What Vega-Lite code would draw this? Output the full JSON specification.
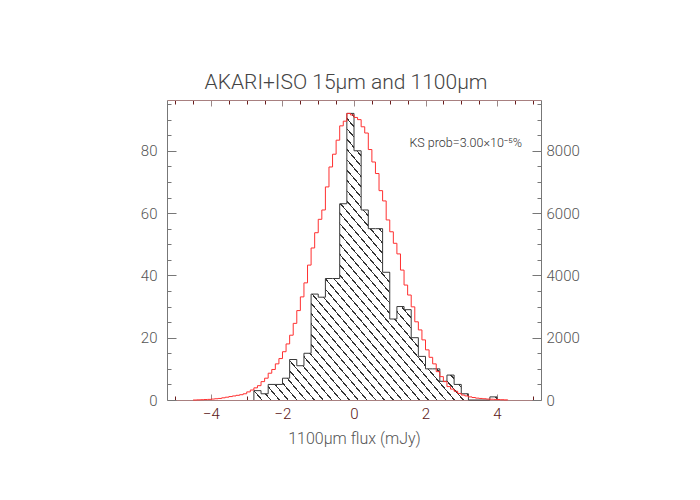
{
  "$schema": "https://vega.github.io/schema/vega-lite/v6.json",
  "width": 374,
  "height": 300,
  "padding": {"left": 140, "top": 72, "right": 5, "bottom": 5},
  "background": "white",
  "config": {"view": {"stroke": null}, "font": "Roboto"},
  "title": {"text": "AKARI+ISO 15μm and 1100μm", "font": "Roboto", "fontSize": 21, "fontWeight": 300, "color": "#444", "offset": 4, "dx": -8},
  "datasets": {
    "hatch": [
      {"i": 0, "x": -2.8, "v": 0}, {"i": 1, "x": -2.8, "v": 3}, {"i": 2, "x": -2.6, "v": 2}, {"i": 3, "x": -2.4, "v": 5},
      {"i": 4, "x": -2.2, "v": 5}, {"i": 5, "x": -2.0, "v": 7}, {"i": 6, "x": -1.8, "v": 13}, {"i": 7, "x": -1.6, "v": 11},
      {"i": 8, "x": -1.4, "v": 15}, {"i": 9, "x": -1.2, "v": 34}, {"i": 10, "x": -1.0, "v": 33}, {"i": 11, "x": -0.8, "v": 39},
      {"i": 12, "x": -0.6, "v": 39}, {"i": 13, "x": -0.4, "v": 63}, {"i": 14, "x": -0.2, "v": 92}, {"i": 15, "x": 0.0, "v": 80},
      {"i": 16, "x": 0.2, "v": 61}, {"i": 17, "x": 0.4, "v": 55}, {"i": 18, "x": 0.6, "v": 55}, {"i": 19, "x": 0.8, "v": 41},
      {"i": 20, "x": 1.0, "v": 26}, {"i": 21, "x": 1.2, "v": 30}, {"i": 22, "x": 1.4, "v": 29}, {"i": 23, "x": 1.6, "v": 20},
      {"i": 24, "x": 1.8, "v": 14}, {"i": 25, "x": 2.0, "v": 10}, {"i": 26, "x": 2.2, "v": 10}, {"i": 27, "x": 2.4, "v": 6},
      {"i": 28, "x": 2.6, "v": 8}, {"i": 29, "x": 2.8, "v": 5}, {"i": 30, "x": 3.0, "v": 2}, {"i": 31, "x": 3.2, "v": 0},
      {"i": 32, "x": 3.8, "v": 1}, {"i": 33, "x": 4.0, "v": 0}
    ],
    "total": [
      {"x": -4.5, "n": 0}, {"x": -4.4, "n": 5}, {"x": -4.3, "n": 10}, {"x": -4.2, "n": 15}, {"x": -4.1, "n": 20},
      {"x": -4.0, "n": 30}, {"x": -3.9, "n": 40}, {"x": -3.8, "n": 50}, {"x": -3.7, "n": 70}, {"x": -3.6, "n": 90},
      {"x": -3.5, "n": 110}, {"x": -3.4, "n": 130}, {"x": -3.3, "n": 150}, {"x": -3.2, "n": 170}, {"x": -3.1, "n": 200},
      {"x": -3.0, "n": 260}, {"x": -2.9, "n": 320}, {"x": -2.8, "n": 390}, {"x": -2.7, "n": 460}, {"x": -2.6, "n": 590},
      {"x": -2.5, "n": 700}, {"x": -2.4, "n": 860}, {"x": -2.3, "n": 980}, {"x": -2.2, "n": 1160}, {"x": -2.1, "n": 1330},
      {"x": -2.0, "n": 1550}, {"x": -1.9, "n": 1800}, {"x": -1.8, "n": 2080}, {"x": -1.7, "n": 2460}, {"x": -1.6, "n": 2870},
      {"x": -1.5, "n": 3310}, {"x": -1.4, "n": 3760}, {"x": -1.3, "n": 4330}, {"x": -1.2, "n": 4880}, {"x": -1.1, "n": 5370},
      {"x": -1.0, "n": 5800}, {"x": -0.9, "n": 6100}, {"x": -0.8, "n": 6840}, {"x": -0.7, "n": 7480}, {"x": -0.6, "n": 7890},
      {"x": -0.5, "n": 8340}, {"x": -0.4, "n": 8800}, {"x": -0.3, "n": 8950}, {"x": -0.2, "n": 9200}, {"x": -0.1, "n": 9150},
      {"x": 0.0, "n": 9070}, {"x": 0.1, "n": 9000}, {"x": 0.2, "n": 8770}, {"x": 0.3, "n": 8570}, {"x": 0.4, "n": 8040},
      {"x": 0.5, "n": 7640}, {"x": 0.6, "n": 7270}, {"x": 0.7, "n": 6720}, {"x": 0.8, "n": 6390}, {"x": 0.9, "n": 5780},
      {"x": 1.0, "n": 5400}, {"x": 1.1, "n": 5030}, {"x": 1.2, "n": 4690}, {"x": 1.3, "n": 4170}, {"x": 1.4, "n": 3690},
      {"x": 1.5, "n": 3370}, {"x": 1.6, "n": 2990}, {"x": 1.7, "n": 2510}, {"x": 1.8, "n": 2250}, {"x": 1.9, "n": 1930},
      {"x": 2.0, "n": 1610}, {"x": 2.1, "n": 1370}, {"x": 2.2, "n": 1160}, {"x": 2.3, "n": 910}, {"x": 2.4, "n": 750},
      {"x": 2.5, "n": 590}, {"x": 2.6, "n": 430}, {"x": 2.7, "n": 350}, {"x": 2.8, "n": 280}, {"x": 2.9, "n": 210},
      {"x": 3.0, "n": 160}, {"x": 3.1, "n": 130}, {"x": 3.2, "n": 100}, {"x": 3.3, "n": 80}, {"x": 3.4, "n": 60},
      {"x": 3.5, "n": 50}, {"x": 3.6, "n": 40}, {"x": 3.7, "n": 30}, {"x": 3.8, "n": 25}, {"x": 3.9, "n": 20},
      {"x": 4.0, "n": 15}, {"x": 4.1, "n": 10}, {"x": 4.2, "n": 5}, {"x": 4.3, "n": 0}
    ],
    "note": [
      {"x": 1.55, "y": 82.6, "label": "KS prob=3.00×10⁻⁵%"}
    ]
  },
  "layer": [
    {
      "data": {"name": "hatch"},
      "mark": {
        "type": "area",
        "interpolate": "step-after",
        "opacity": 1,
        "color": {
          "gradient": "linear",
          "x1": 0, "y1": 1, "x2": 1, "y2": 0,
          "stops": [
            {"offset": 0, "color": "#fff"},
            {"offset": 0.015, "color": "#fff"}, {"offset": 0.015, "color": "#333"}, {"offset": 0.018, "color": "#333"}, {"offset": 0.018, "color": "#fff"},
            {"offset": 0.033, "color": "#fff"}, {"offset": 0.033, "color": "#333"}, {"offset": 0.036, "color": "#333"}, {"offset": 0.036, "color": "#fff"},
            {"offset": 0.051, "color": "#fff"}, {"offset": 0.051, "color": "#333"}, {"offset": 0.054, "color": "#333"}, {"offset": 0.054, "color": "#fff"},
            {"offset": 0.069, "color": "#fff"}, {"offset": 0.069, "color": "#333"}, {"offset": 0.072, "color": "#333"}, {"offset": 0.072, "color": "#fff"},
            {"offset": 0.087, "color": "#fff"}, {"offset": 0.087, "color": "#333"}, {"offset": 0.09, "color": "#333"}, {"offset": 0.09, "color": "#fff"},
            {"offset": 0.105, "color": "#fff"}, {"offset": 0.105, "color": "#333"}, {"offset": 0.108, "color": "#333"}, {"offset": 0.108, "color": "#fff"},
            {"offset": 0.123, "color": "#fff"}, {"offset": 0.123, "color": "#333"}, {"offset": 0.126, "color": "#333"}, {"offset": 0.126, "color": "#fff"},
            {"offset": 0.141, "color": "#fff"}, {"offset": 0.141, "color": "#333"}, {"offset": 0.144, "color": "#333"}, {"offset": 0.144, "color": "#fff"},
            {"offset": 0.159, "color": "#fff"}, {"offset": 0.159, "color": "#333"}, {"offset": 0.162, "color": "#333"}, {"offset": 0.162, "color": "#fff"},
            {"offset": 0.177, "color": "#fff"}, {"offset": 0.177, "color": "#333"}, {"offset": 0.18, "color": "#333"}, {"offset": 0.18, "color": "#fff"},
            {"offset": 0.195, "color": "#fff"}, {"offset": 0.195, "color": "#333"}, {"offset": 0.198, "color": "#333"}, {"offset": 0.198, "color": "#fff"},
            {"offset": 0.213, "color": "#fff"}, {"offset": 0.213, "color": "#333"}, {"offset": 0.216, "color": "#333"}, {"offset": 0.216, "color": "#fff"},
            {"offset": 0.231, "color": "#fff"}, {"offset": 0.231, "color": "#333"}, {"offset": 0.234, "color": "#333"}, {"offset": 0.234, "color": "#fff"},
            {"offset": 0.249, "color": "#fff"}, {"offset": 0.249, "color": "#333"}, {"offset": 0.252, "color": "#333"}, {"offset": 0.252, "color": "#fff"},
            {"offset": 0.267, "color": "#fff"}, {"offset": 0.267, "color": "#333"}, {"offset": 0.27, "color": "#333"}, {"offset": 0.27, "color": "#fff"},
            {"offset": 0.285, "color": "#fff"}, {"offset": 0.285, "color": "#333"}, {"offset": 0.288, "color": "#333"}, {"offset": 0.288, "color": "#fff"},
            {"offset": 0.303, "color": "#fff"}, {"offset": 0.303, "color": "#333"}, {"offset": 0.306, "color": "#333"}, {"offset": 0.306, "color": "#fff"},
            {"offset": 0.321, "color": "#fff"}, {"offset": 0.321, "color": "#333"}, {"offset": 0.324, "color": "#333"}, {"offset": 0.324, "color": "#fff"},
            {"offset": 0.339, "color": "#fff"}, {"offset": 0.339, "color": "#333"}, {"offset": 0.342, "color": "#333"}, {"offset": 0.342, "color": "#fff"},
            {"offset": 0.357, "color": "#fff"}, {"offset": 0.357, "color": "#333"}, {"offset": 0.36, "color": "#333"}, {"offset": 0.36, "color": "#fff"},
            {"offset": 0.375, "color": "#fff"}, {"offset": 0.375, "color": "#333"}, {"offset": 0.378, "color": "#333"}, {"offset": 0.378, "color": "#fff"},
            {"offset": 0.393, "color": "#fff"}, {"offset": 0.393, "color": "#333"}, {"offset": 0.396, "color": "#333"}, {"offset": 0.396, "color": "#fff"},
            {"offset": 0.411, "color": "#fff"}, {"offset": 0.411, "color": "#333"}, {"offset": 0.414, "color": "#333"}, {"offset": 0.414, "color": "#fff"},
            {"offset": 0.429, "color": "#fff"}, {"offset": 0.429, "color": "#333"}, {"offset": 0.432, "color": "#333"}, {"offset": 0.432, "color": "#fff"},
            {"offset": 0.447, "color": "#fff"}, {"offset": 0.447, "color": "#333"}, {"offset": 0.45, "color": "#333"}, {"offset": 0.45, "color": "#fff"},
            {"offset": 0.465, "color": "#fff"}, {"offset": 0.465, "color": "#333"}, {"offset": 0.468, "color": "#333"}, {"offset": 0.468, "color": "#fff"},
            {"offset": 0.483, "color": "#fff"}, {"offset": 0.483, "color": "#333"}, {"offset": 0.486, "color": "#333"}, {"offset": 0.486, "color": "#fff"},
            {"offset": 0.501, "color": "#fff"}, {"offset": 0.501, "color": "#333"}, {"offset": 0.504, "color": "#333"}, {"offset": 0.504, "color": "#fff"},
            {"offset": 0.519, "color": "#fff"}, {"offset": 0.519, "color": "#333"}, {"offset": 0.522, "color": "#333"}, {"offset": 0.522, "color": "#fff"},
            {"offset": 0.537, "color": "#fff"}, {"offset": 0.537, "color": "#333"}, {"offset": 0.54, "color": "#333"}, {"offset": 0.54, "color": "#fff"},
            {"offset": 0.555, "color": "#fff"}, {"offset": 0.555, "color": "#333"}, {"offset": 0.558, "color": "#333"}, {"offset": 0.558, "color": "#fff"},
            {"offset": 0.573, "color": "#fff"}, {"offset": 0.573, "color": "#333"}, {"offset": 0.576, "color": "#333"}, {"offset": 0.576, "color": "#fff"},
            {"offset": 0.591, "color": "#fff"}, {"offset": 0.591, "color": "#333"}, {"offset": 0.594, "color": "#333"}, {"offset": 0.594, "color": "#fff"},
            {"offset": 0.609, "color": "#fff"}, {"offset": 0.609, "color": "#333"}, {"offset": 0.612, "color": "#333"}, {"offset": 0.612, "color": "#fff"},
            {"offset": 0.627, "color": "#fff"}, {"offset": 0.627, "color": "#333"}, {"offset": 0.63, "color": "#333"}, {"offset": 0.63, "color": "#fff"},
            {"offset": 0.645, "color": "#fff"}, {"offset": 0.645, "color": "#333"}, {"offset": 0.648, "color": "#333"}, {"offset": 0.648, "color": "#fff"},
            {"offset": 0.663, "color": "#fff"}, {"offset": 0.663, "color": "#333"}, {"offset": 0.666, "color": "#333"}, {"offset": 0.666, "color": "#fff"},
            {"offset": 0.681, "color": "#fff"}, {"offset": 0.681, "color": "#333"}, {"offset": 0.684, "color": "#333"}, {"offset": 0.684, "color": "#fff"},
            {"offset": 0.699, "color": "#fff"}, {"offset": 0.699, "color": "#333"}, {"offset": 0.702, "color": "#333"}, {"offset": 0.702, "color": "#fff"},
            {"offset": 0.717, "color": "#fff"}, {"offset": 0.717, "color": "#333"}, {"offset": 0.72, "color": "#333"}, {"offset": 0.72, "color": "#fff"},
            {"offset": 0.735, "color": "#fff"}, {"offset": 0.735, "color": "#333"}, {"offset": 0.738, "color": "#333"}, {"offset": 0.738, "color": "#fff"},
            {"offset": 0.753, "color": "#fff"}, {"offset": 0.753, "color": "#333"}, {"offset": 0.756, "color": "#333"}, {"offset": 0.756, "color": "#fff"},
            {"offset": 0.771, "color": "#fff"}, {"offset": 0.771, "color": "#333"}, {"offset": 0.774, "color": "#333"}, {"offset": 0.774, "color": "#fff"},
            {"offset": 0.789, "color": "#fff"}, {"offset": 0.789, "color": "#333"}, {"offset": 0.792, "color": "#333"}, {"offset": 0.792, "color": "#fff"},
            {"offset": 0.807, "color": "#fff"}, {"offset": 0.807, "color": "#333"}, {"offset": 0.81, "color": "#333"}, {"offset": 0.81, "color": "#fff"},
            {"offset": 0.825, "color": "#fff"}, {"offset": 0.825, "color": "#333"}, {"offset": 0.828, "color": "#333"}, {"offset": 0.828, "color": "#fff"},
            {"offset": 0.843, "color": "#fff"}, {"offset": 0.843, "color": "#333"}, {"offset": 0.846, "color": "#333"}, {"offset": 0.846, "color": "#fff"},
            {"offset": 0.861, "color": "#fff"}, {"offset": 0.861, "color": "#333"}, {"offset": 0.864, "color": "#333"}, {"offset": 0.864, "color": "#fff"},
            {"offset": 0.879, "color": "#fff"}, {"offset": 0.879, "color": "#333"}, {"offset": 0.882, "color": "#333"}, {"offset": 0.882, "color": "#fff"},
            {"offset": 0.897, "color": "#fff"}, {"offset": 0.897, "color": "#333"}, {"offset": 0.9, "color": "#333"}, {"offset": 0.9, "color": "#fff"},
            {"offset": 0.915, "color": "#fff"}, {"offset": 0.915, "color": "#333"}, {"offset": 0.918, "color": "#333"}, {"offset": 0.918, "color": "#fff"},
            {"offset": 0.933, "color": "#fff"}, {"offset": 0.933, "color": "#333"}, {"offset": 0.936, "color": "#333"}, {"offset": 0.936, "color": "#fff"},
            {"offset": 0.951, "color": "#fff"}, {"offset": 0.951, "color": "#333"}, {"offset": 0.954, "color": "#333"}, {"offset": 0.954, "color": "#fff"},
            {"offset": 0.969, "color": "#fff"}, {"offset": 0.969, "color": "#333"}, {"offset": 0.972, "color": "#333"}, {"offset": 0.972, "color": "#fff"},
            {"offset": 0.987, "color": "#fff"}, {"offset": 0.987, "color": "#333"}, {"offset": 0.99, "color": "#333"}, {"offset": 0.99, "color": "#fff"},
            {"offset": 1, "color": "#fff"}
          ]
        }
      },
      "encoding": {
        "x": {
          "field": "x", "type": "quantitative",
          "scale": {"domain": [-5.23, 5.23], "nice": false, "zero": false},
          "axis": {
            "orient": "bottom",
            "values": [-5, -4.5, -4, -3.5, -3, -2.5, -2, -1.5, -1, -0.5, 0, 0.5, 1, 1.5, 2, 2.5, 3, 3.5, 4, 4.5, 5],
            "format": "d",
            "labelExpr": "datum.value % 2 === 0 ? datum.label : ''",
            "tickSize": {"condition": {"test": "datum.value % 2 === 0", "value": -6}, "value": -4},
            "tickColor": {"condition": {"test": "datum.value % 2 === 0", "value": "#9a8888"}, "value": "#6b1f1f"},
            "domainColor": "#a88080",
            "labelColor": "#5a1414", "labelFont": "Roboto", "labelFontSize": 15, "labelFontWeight": 300, "labelPadding": 12,
            "labelOverlap": false, "labelFlush": false,
            "title": "1100μm flux (mJy)", "titleColor": "#555", "titleFont": "Roboto", "titleFontSize": 16, "titleFontWeight": 300, "titlePadding": 7,
            "grid": false
          }
        },
        "y": {
          "field": "v", "type": "quantitative", "stack": null,
          "scale": {"domain": [0, 96.3], "nice": false},
          "axis": {
            "orient": "left",
            "values": [0, 5, 10, 15, 20, 25, 30, 35, 40, 45, 50, 55, 60, 65, 70, 75, 80, 85, 90, 95],
            "labelExpr": "datum.value % 20 === 0 ? datum.label : ''",
            "tickSize": {"condition": {"test": "datum.value % 20 === 0", "value": -9}, "value": -4},
            "tickColor": "#777", "domainColor": "#777",
            "labelColor": "#555", "labelFont": "Roboto", "labelFontSize": 15, "labelFontWeight": 300, "labelPadding": 19,
            "labelOverlap": false, "labelFlush": false,
            "title": null, "grid": false
          }
        }
      }
    },
    {
      "data": {"name": "hatch"},
      "mark": {"type": "line", "interpolate": "step-after", "color": "#3a3a3a", "strokeWidth": 1},
      "encoding": {
        "x": {
          "field": "x", "type": "quantitative",
          "scale": {"domain": [-5.23, 5.23], "nice": false, "zero": false},
          "axis": {
            "orient": "top",
            "values": [-5, -4.5, -4, -3.5, -3, -2.5, -2, -1.5, -1, -0.5, 0, 0.5, 1, 1.5, 2, 2.5, 3, 3.5, 4, 4.5, 5],
            "labels": false,
            "tickSize": {"condition": {"test": "datum.value % 2 === 0", "value": -6}, "value": -4},
            "tickColor": {"condition": {"test": "datum.value % 2 === 0", "value": "#9a8888"}, "value": "#6b1f1f"},
            "domainColor": "#a88080",
            "title": null, "grid": false
          }
        },
        "y": {
          "field": "v", "type": "quantitative",
          "scale": {"domain": [0, 96.3], "nice": false},
          "axis": null
        },
        "order": {"field": "i"}
      }
    },
    {
      "data": {"name": "total"},
      "mark": {"type": "line", "interpolate": "step-after", "color": "#ff3030", "strokeWidth": 1},
      "encoding": {
        "x": {
          "field": "x", "type": "quantitative",
          "scale": {"domain": [-5.23, 5.23], "nice": false, "zero": false},
          "axis": null
        },
        "y": {
          "field": "n", "type": "quantitative",
          "scale": {"domain": [0, 9630], "nice": false},
          "axis": {
            "orient": "right",
            "values": [0, 500, 1000, 1500, 2000, 2500, 3000, 3500, 4000, 4500, 5000, 5500, 6000, 6500, 7000, 7500, 8000, 8500, 9000, 9500],
            "format": "d",
            "labelExpr": "datum.value % 2000 === 0 ? datum.label : ''",
            "tickSize": {"condition": {"test": "datum.value % 2000 === 0", "value": -9}, "value": -4},
            "tickColor": "#777", "domainColor": "#777",
            "labelColor": "#555", "labelFont": "Roboto", "labelFontSize": 15, "labelFontWeight": 300, "labelPadding": 14,
            "labelOverlap": false, "labelFlush": false,
            "title": null, "grid": false
          }
        }
      }
    },
    {
      "data": {"name": "note"},
      "mark": {"type": "text", "align": "left", "baseline": "middle", "font": "Roboto", "fontSize": 12.5, "fontWeight": 300, "color": "#333"},
      "encoding": {
        "x": {
          "field": "x", "type": "quantitative",
          "scale": {"domain": [-5.23, 5.23], "nice": false, "zero": false},
          "axis": null
        },
        "y": {
          "field": "y", "type": "quantitative",
          "scale": {"domain": [0, 96.3], "nice": false},
          "axis": null
        },
        "text": {"field": "label"}
      }
    }
  ],
  "resolve": {"scale": {"y": "independent"}, "axis": {"x": "independent", "y": "independent"}}
}
